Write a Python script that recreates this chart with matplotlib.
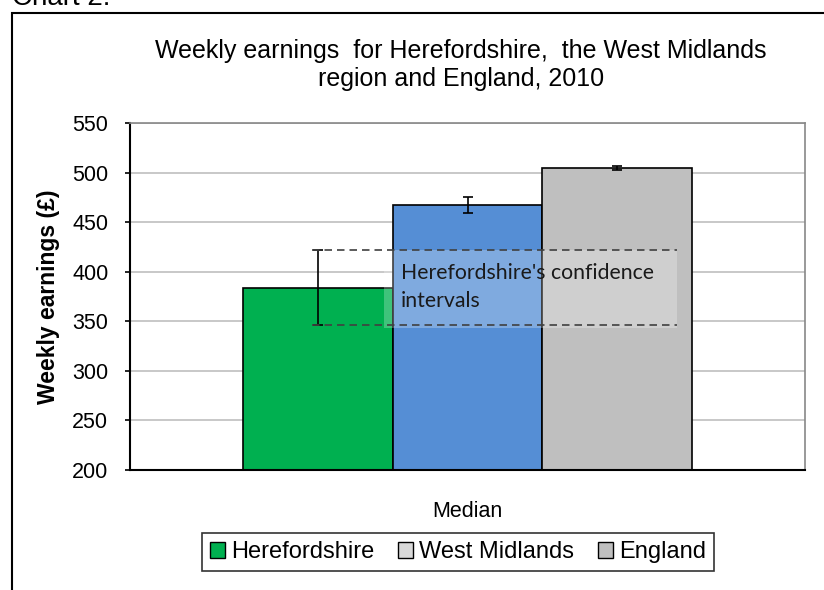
import matplotlib
matplotlib.use('Agg')
import matplotlib.pyplot as plt
from matplotlib.patches import Patch, Rectangle

plt.rcParams['font.family'] = ['Liberation Sans', 'DejaVu Sans']

# data
regions = ['Herefordshire', 'West Midlands', 'England']
medians = [384, 467, 505]
ci_half = [38, 8, 2]
category = 'Median'
bar_colors = ['#00b050', '#558ed5', '#bfbfbf']
legend_colors = ['#00b050', '#d9d9d9', '#bfbfbf']
yticks = [200, 250, 300, 350, 400, 450, 500, 550]

fig = plt.figure(figsize=(8.24, 5.90), dpi=100)
ax = fig.add_axes([130 / 824, 1 - 470 / 590, 675 / 824, 347 / 590])

width = 0.2222
offsets = [-width, 0, width]
for off, val, err, col in zip(offsets, medians, ci_half, bar_colors):
    ax.bar(0.5 + off, val - 200, bottom=200, width=width, color=col,
           edgecolor='black', linewidth=1.2, zorder=2)
    ax.errorbar(0.5 + off, val, yerr=err, fmt='none', ecolor='black',
                elinewidth=1.2, capsize=3.6, capthick=1.2, zorder=4)

# Herefordshire confidence interval band
h_lo = medians[0] - ci_half[0]
h_hi = medians[0] + ci_half[0]
x0 = 0.5 - width - 0.008
x1 = 0.81
ax.hlines([h_lo, h_hi], x0, x1, colors='#404040', linestyles=(0, (4.5, 3)),
          linewidth=1.2, zorder=5)
ax.add_patch(Rectangle((0.376, h_lo - 3), x1 - 0.376, h_hi - h_lo + 3,
                       facecolor='white', alpha=0.25, edgecolor='none', zorder=3))
ax.text(0.401, 409, "Herefordshire's confidence\nintervals", fontsize=15.3,
        family=['Lato', 'DejaVu Sans'], va='top', ha='left',
        linespacing=1.5, color='#1a1a1a', zorder=6)

ax.set_xlim(0, 1)
ax.set_ylim(200, 550)
ax.set_yticks(yticks)
ax.set_xticks([0.5])
ax.set_xticklabels([category])
ax.tick_params(axis='x', length=0, pad=22, labelsize=15.5)
ax.tick_params(axis='y', direction='out', length=3.6, width=1.2, labelsize=15.5, pad=12)
ax.yaxis.grid(True, color='#bfbfbf', linewidth=1.2, zorder=0)
ax.set_axisbelow(True)
for side in ['top', 'right']:
    ax.spines[side].set_color('#888888')
    ax.spines[side].set_linewidth(1.2)
for side in ['left', 'bottom']:
    ax.spines[side].set_linewidth(1.5)
ax.set_ylabel('Weekly earnings (£)', fontsize=16.5, fontweight='bold', labelpad=9)

fig.text(461 / 824, 1 - 65 / 590,
         'Weekly earnings  for Herefordshire,  the West Midlands\nregion and England, 2010',
         ha='center', va='center', fontsize=18, linespacing=1.25)

handles = [Patch(facecolor=c, edgecolor='black', linewidth=1) for c in legend_colors]
leg = fig.legend(handles, regions, loc='center', bbox_to_anchor=(458 / 824, 1 - 552 / 590),
                 ncol=3, fontsize=17, frameon=True, fancybox=False,
                 handlelength=0.65, handleheight=0.65, handletextpad=0.25,
                 columnspacing=1.0, borderpad=0.35)
leg.get_frame().set_edgecolor('black')
leg.get_frame().set_linewidth(1.2)

# outer chart frame and heading
fig.patches.append(Rectangle((12 / 824, -0.2), 1.2, 1 - 13 / 590 + 0.2,
                             transform=fig.transFigure, fill=False,
                             edgecolor='black', linewidth=1.5))
fig.text(12 / 824, 1 - 5 / 590, 'Chart 2:', fontsize=20, ha='left', va='baseline')

fig.savefig('out.png', dpi=100)
